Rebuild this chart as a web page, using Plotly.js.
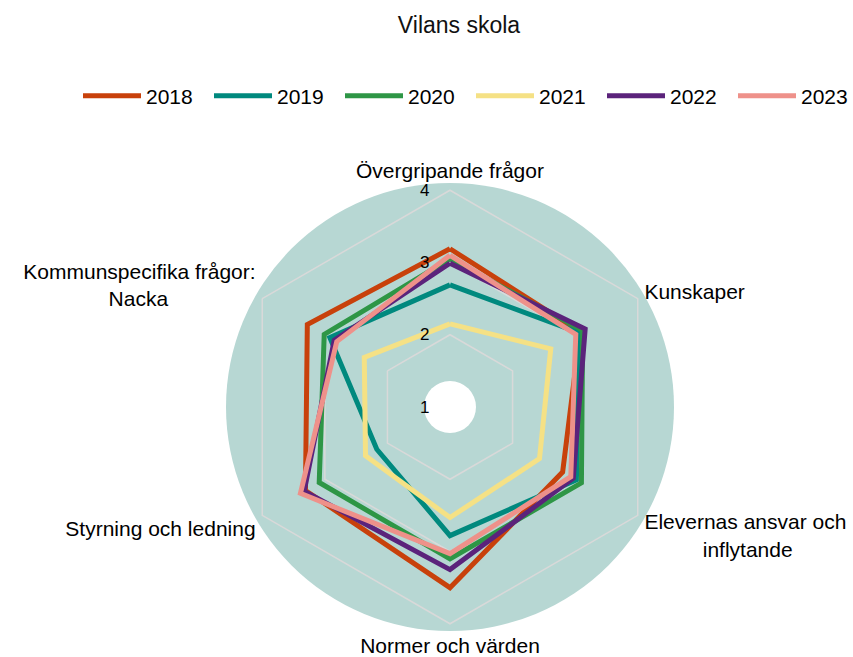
<!DOCTYPE html>
<html>
<head>
<meta charset="utf-8">
<script src="https://cdn.plot.ly/plotly-3.0.1.min.js"></script>
<style>html,body{margin:0;padding:0;background:#fff;overflow:hidden;}#chart{width:853px;height:657px;}</style>
</head>
<body>
<div id="chart"></div>
<script>
var categories = ["Övergripande frågor", "Kunskaper", "Elevernas ansvar och inflytande", "Normer och värden", "Styrning och ledning", "Kommunspecifika frågor: Nacka"];
var nb = function (n) { return new Array(n + 1).join("\u00a0"); };
var categoryLabels = ["Övergripande frågor", "Kunskaper", "Elevernas ansvar och<br>" + nb(10) + "inflytande", "Normer och värden", "Styrning och ledning", "Kommunspecifika frågor:<br>Nacka" + nb(15)];
var years = ["2018", "2019", "2020", "2021", "2022", "2023"];
var v2018 = [3.19, 3.08, 2.80, 3.50, 3.31, 3.28];
var v2019 = [2.69, 3.06, 3.02, 2.78, 2.17, 2.92];
var v2020 = [3.05, 3.12, 3.10, 3.10, 3.09, 3.01];
var v2021 = [2.15, 2.61, 2.43, 2.53, 2.35, 2.37];
var v2022 = [2.99, 3.16, 2.97, 3.25, 3.33, 2.85];
var v2023 = [3.10, 3.01, 2.93, 3.03, 3.39, 2.81];
var colors = ["#C8410B", "#00897E", "#2E9646", "#F5E185", "#5B237B", "#EE918A"];
var radialTicks = [1, 2, 3, 4];

var series = [v2018, v2019, v2020, v2021, v2022, v2023];
var traces = series.map(function (vals, i) {
  return {
    type: "scatterpolar",
    mode: "lines",
    name: years[i],
    r: vals.concat([vals[0]]),
    theta: categories.concat([categories[0]]),
    line: {color: colors[i], width: 5},
    hoverinfo: "name+r+theta"
  };
});

var W = 853, H = 657;
var cx = 450, cy = 407, R = 224, hole = 26;
var layout = {
  width: W, height: H,
  margin: {l: 0, r: 0, t: 0, b: 0, autoexpand: false},
  paper_bgcolor: "#ffffff",
  font: {family: "Liberation Sans, Arial, sans-serif", color: "#000000", size: 21},
  title: {text: "Vilans skola", x: 459 / W, xanchor: "center", y: 1 - 25 / H, yanchor: "middle", font: {size: 23, color: "#111111"}},
  showlegend: true,
  legend: {orientation: "h", x: 471 / W, xanchor: "center", y: 1 - 96 / H, yanchor: "middle", font: {size: 21}, itemwidth: 58, entrywidth: 58, entrywidthmode: "pixels", traceorder: "normal"},
  polar: {
    domain: {x: [(cx - R) / W, (cx + R) / W], y: [(H - cy - R) / H, (H - cy + R) / H]},
    bgcolor: "rgba(0,0,0,0)",
    gridshape: "linear",
    angularaxis: {
      type: "category",
      categoryarray: categories,
      tickvals: categories,
      ticktext: categoryLabels,
      direction: "clockwise",
      rotation: 90,
      showgrid: false,
      showline: false,
      ticks: "",
      tickfont: {size: 21, color: "#000000"}
    },
    radialaxis: {
      range: [1, 4.1],
      tickvals: radialTicks,
      ticktext: radialTicks.map(String),
      angle: 90,
      tickangle: 90,
      side: "counterclockwise",
      showline: false,
      ticks: "outside",
      ticklen: 14,
      tickcolor: "rgba(0,0,0,0)",
      gridcolor: "#d9d9d9",
      gridwidth: 1.5,
      tickfont: {size: 17, color: "#000000"}
    }
  },
  shapes: [
    {type: "circle", xref: "paper", yref: "paper", layer: "below",
     x0: (cx - R) / W, x1: (cx + R) / W, y0: (H - cy - R) / H, y1: (H - cy + R) / H,
     fillcolor: "#b7d7d3", line: {width: 0}},
    {type: "circle", xref: "paper", yref: "paper", layer: "below",
     x0: (cx - hole) / W, x1: (cx + hole) / W, y0: (H - cy - hole) / H, y1: (H - cy + hole) / H,
     fillcolor: "#ffffff", line: {width: 0}}
  ]
};

Plotly.newPlot("chart", traces, layout, {displayModeBar: false, staticPlot: true});
</script>
</body>
</html>
